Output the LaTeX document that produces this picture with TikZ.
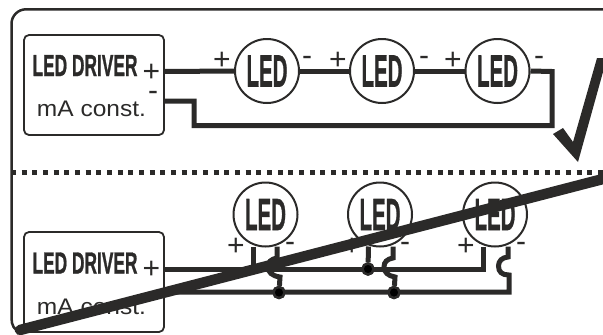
\documentclass[tikz,border=0pt]{standalone}
\usepackage{graphicx}
\usepackage{fontspec}
\setmainfont{Liberation Sans}
\newfontfamily\heavy{Liberation Sans}[BoldFeatures={FakeBold=1.2}]
\definecolor{ink}{HTML}{2B2A29}
\newcommand{\ledword}{\resizebox{41pt}{31pt}{\heavy\bfseries LED}}
\newcommand{\drvword}{\resizebox{105pt}{21pt}{\heavy\bfseries LED DRIVER}}
\newcommand{\mAword}{\resizebox{109pt}{15.5pt}{mA const.}}
\tikzset{
  ledcirc/.style={circle,draw=ink,line width=2pt,minimum size=64pt,inner sep=0pt,text=ink},
  drvbox/.style={draw=ink,line width=1.8pt,rounded corners=5pt,minimum width=140pt,minimum height=100pt,inner sep=0pt},
  lab/.style={inner sep=0pt,text=ink,font=\fontsize{30}{30}\selectfont},
  txt/.style={inner sep=0pt,text=ink},
  wire/.style={draw=ink,line width=5pt,line cap=butt,line join=miter},
  junction/.style={circle,fill=black,draw=ink,line width=2.4pt,minimum size=11pt,inner sep=0pt},
}
\begin{document}
\begin{tikzpicture}[x=1pt,y=-1pt]
\useasboundingbox (0,0) rectangle (603,335);
% frame
\draw[ink,line width=2.5pt] (603,9.3) -- (26,9.3) arc[start angle=90,end angle=180,x radius=14.5pt,y radius=14.5pt] -- (11.5,318) .. controls (11.5,325) and (14,330) .. (20,332);
% top row
\node[drvbox] (d1) at (94,85) {};
\node[txt] (d1a) at (85,65.5) {\drvword};
\node[txt] (d1b) at (91.5,109) {\mAword};
\node[lab] (d1p) at (151.5,73) {+};
\node[lab] (d1m) at (153,96) {-};
\node[ledcirc] (a1) at (267,71) {\ledword};
\node[ledcirc] (a2) at (382,71) {\ledword};
\node[ledcirc] (a3) at (497.5,71) {\ledword};
\foreach \n/\x/\t in {ap1/222/+,am1/307/-,ap2/338/+,am2/424/-,ap3/453/+,am3/539/-}{
  \node[lab] (\n) at (\x,61) {\t};
}
\coordinate (c1) at (552,71.5);
\coordinate (c2) at (552,125.5);
\coordinate (c3) at (194,125.5);
\coordinate (c4) at (194,101);
\coordinate (d1out) at (164.8,71.5);
\coordinate (d1ret) at (164.8,101);
\path[wire] (d1out) -- (a1.west);
\path[wire] (a1.east) -- (a2.west);
\path[wire] (a2.east) -- (a3.west);
\path[wire] (a3.east) -- (c1) -- (c2) -- (c3) -- (c4) -- (d1ret);
% tick
\fill[ink] (603,58) -- (597,58) -- (573,142) -- (563,128) -- (553,134) -- (578,162) -- (603,72) -- cycle;
% divider
\draw[ink,line width=5pt,dash pattern=on 5pt off 5.67pt] (11,172.5) -- (603,172.5);
% bottom row
\node[drvbox] (d2) at (94,282) {};
\node[txt] (d2a) at (85,263) {\drvword};
\node[txt] (d2b) at (91.5,307) {\mAword};
\node[lab] (d2p) at (151.5,270) {+};
\node[ledcirc] (b1) at (265.5,214.5) {\ledword};
\node[ledcirc] (b2) at (380,214.5) {\ledword};
\node[ledcirc] (b3) at (495,214.5) {\ledword};
\foreach \n/\x/\t in {bp1/236/+,bm1/290/-,bp2/352/+,bm2/405/-,bp3/466/+,bm3/521/-}{
  \node[lab] (\n) at (\x,247) {\t};
}
\coordinate (e1) at (164.8,269);
\coordinate (e2) at (164.8,292);
\coordinate (p1) at (253,246.5);
\coordinate (p1b) at (253,269);
\coordinate (p3) at (483,246.5);
\coordinate (p3b) at (483,269);
\coordinate (m3t) at (508,246.5);
\coordinate (m3b) at (509,292);
\node[junction] (j1) at (368,269) {};
\node[junction] (j2) at (279,292.5) {};
\node[junction] (j3) at (394,292.5) {};
\path[wire] (e1) -- (p3b) -- (p3);
\path[wire] (e2) -- (m3b) -- (509,275) .. controls (502,275) and (498.5,272) .. (498.5,266) .. controls (498.5,261) and (502,257.5) .. (508,257) -- (m3t);
\path[wire] (p1) -- (p1b);
\path[wire] (368.5,246.5) -- (j1);
\path[wire] (277,246.5) -- (277,258) .. controls (271,259) and (268,262) .. (268,267) .. controls (268,272) and (272,276) .. (280,277) -- (j2);
\path[wire] (393,246.5) -- (393,258) .. controls (387,259) and (384,262) .. (384,267) .. controls (384,272) and (388,276) .. (395,277) -- (j3);
\node[junction] at (j1) {};
\node[junction] at (j2) {};
\node[junction] at (j3) {};
% strike
\draw[ink,line width=10.5pt,line cap=round] (20,330) -- (603,179);
\end{tikzpicture}
\end{document}
